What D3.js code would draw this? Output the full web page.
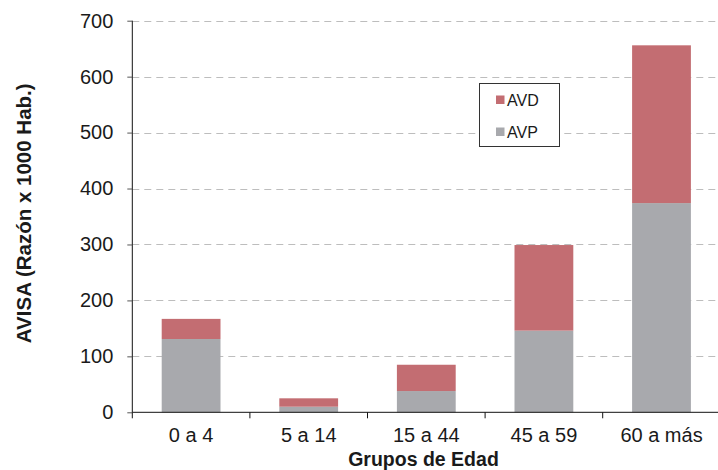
<!DOCTYPE html>
<html>
<head>
<meta charset="utf-8">
<script src="https://cdn.jsdelivr.net/npm/d3@7"></script>
<style>
  html, body { margin: 0; padding: 0; background: #fff; }
  svg { display: block; }
  text { font-family: "Liberation Sans", Arial, sans-serif; fill: #1a1a1a; }
</style>
</head>
<body>
<svg id="chart" width="718" height="470"></svg>
<script>
const categories = ["0 a 4", "5 a 14", "15 a 44", "45 a 59", "60 a más"];
const avp = [131, 10, 38, 146, 374];
const avd = [36, 15, 47, 153, 282];
const yTicks = [0, 100, 200, 300, 400, 500, 600, 700];
const seriesNames = ["AVP", "AVD"];
const colors = { AVP: "#a8a9ad", AVD: "#c36d72" };

(function () {
const W = 718, H = 470;
const mLeft = 132.3, mRight = 720.3, mTop = 20.7, mBottom = 412.3;

const svg = d3.select("#chart");

const x = d3.scaleBand().domain(categories).range([mLeft, mRight]).paddingInner(0.5).paddingOuter(0.25);
const y = d3.scaleLinear().domain([0, 700]).range([mBottom, mTop]);

// gridlines
svg.append("g").selectAll("line").data(yTicks.filter(d => d > 0)).join("line")
  .attr("x1", mLeft).attr("x2", W)
  .attr("y1", d => Math.round(y(d)) + 0.5).attr("y2", d => Math.round(y(d)) + 0.5)
  .attr("stroke", "#bdbdbd").attr("stroke-width", 1).attr("stroke-dasharray", "7,5");

// stacked data
const rows = categories.map((c, i) => ({ cat: c, AVP: avp[i], AVD: avd[i] }));
const stack = d3.stack().keys(seriesNames)(rows);

svg.append("g").selectAll("g").data(stack).join("g")
  .attr("fill", s => colors[s.key])
  .selectAll("rect").data(s => s).join("rect")
  .attr("x", d => x(d.data.cat))
  .attr("width", x.bandwidth())
  .attr("y", d => y(d[1]))
  .attr("height", d => y(d[0]) - y(d[1]));

// y axis
const yAxis = d3.axisLeft(y).tickValues(yTicks).tickSize(5).tickPadding(14).tickFormat(d3.format("d"));
const gy = svg.append("g").attr("transform", `translate(${mLeft},0)`).call(yAxis);
gy.select(".domain").attr("stroke", "#111").attr("d", `M0,${mTop}V${mBottom}`);
gy.selectAll(".tick line").attr("stroke", "#555");
gy.selectAll(".tick text").attr("font-size", 20).attr("fill", "#1a1a1a")
  .attr("font-family", "Liberation Sans, Arial, sans-serif");

// x axis (labels at centers, ticks at band boundaries)
const xAxis = d3.axisBottom(x).tickSize(0).tickPadding(15.8);
const gx = svg.append("g").attr("transform", `translate(0,${mBottom})`).call(xAxis);
gx.select(".domain").attr("stroke", "#111").attr("d", `M${mLeft},0H${W}`);
gx.selectAll(".tick text").attr("font-size", 20).attr("fill", "#1a1a1a")
  .attr("font-family", "Liberation Sans, Arial, sans-serif");
const boundaries = d3.range(categories.length + 1).map(i => mLeft + i * (mRight - mLeft) / categories.length);
gx.append("g").selectAll("line").data(boundaries).join("line")
  .attr("x1", d => d).attr("x2", d => d).attr("y1", 0).attr("y2", 6)
  .attr("stroke", "#111");

// axis titles
svg.append("text")
  .attr("x", 423.5).attr("y", 465.5)
  .attr("text-anchor", "middle").attr("font-size", 19.5).attr("font-weight", "bold")
  .text("Grupos de Edad");
svg.append("text")
  .attr("transform", `translate(31,213.3) rotate(-90)`)
  .attr("text-anchor", "middle").attr("font-size", 20.5).attr("font-weight", "bold")
  .text("AVISA (Razón x 1000 Hab.)");

// legend
const lg = svg.append("g");
lg.append("rect").attr("x", 479.5).attr("y", 83.5).attr("width", 80).attr("height", 63)
  .attr("fill", "#fff").attr("stroke", "#333").attr("stroke-width", 1);
const legendItems = ["AVD", "AVP"];
legendItems.forEach((k, i) => {
  const cy = 100 + i * 32;
  lg.append("rect").attr("x", 496).attr("y", cy - 4.5).attr("width", 8.5).attr("height", 8.5).attr("fill", colors[k]);
  lg.append("text").attr("x", 507).attr("y", cy).attr("dy", "0.36em").attr("font-size", 16).text(k);
});
})();
</script>
</body>
</html>
